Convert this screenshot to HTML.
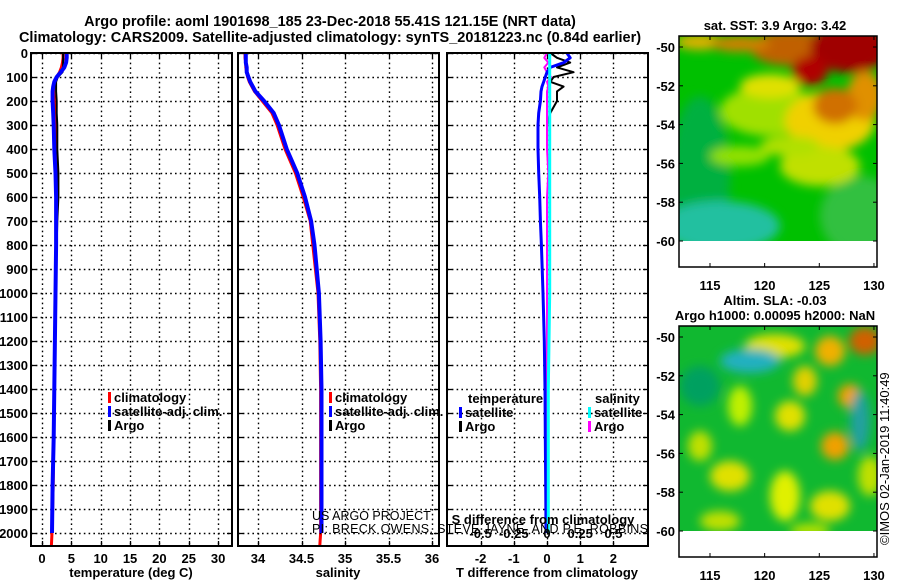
<!DOCTYPE html>
<html><head><meta charset="utf-8"><style>
html,body{margin:0;padding:0;background:#fff;}
svg{display:block;font-family:"Liberation Sans",Arial,sans-serif;}
.t{font-weight:bold;font-size:13px;}
.h{font-weight:bold;font-size:14.5px;}
</style></head><body>
<svg id="c" width="900" height="580" viewBox="0 0 900 580">
<defs>
<filter id="bl" x="-20%" y="-20%" width="140%" height="140%"><feGaussianBlur stdDeviation="5"/></filter>
<clipPath id="m1"><rect x="679" y="36" width="198" height="205"/></clipPath>
<clipPath id="m2"><rect x="679" y="326" width="198" height="205"/></clipPath>
</defs>
<text class="h" x="330" y="26" text-anchor="middle">Argo profile: aoml 1901698_185 23-Dec-2018 55.41S 121.15E (NRT data)</text>
<text class="h" x="330" y="42" text-anchor="middle">Climatology: CARS2009. Satellite-adjusted climatology: synTS_20181223.nc (0.84d earlier)</text>
<g id="g"></g>
</svg>
<script>
// Depth levels (m)
const depths=[0,20,40,60,80,100,120,140,160,200,250,300,400,500,600,700,800,1000,1200,1400,1600,1800,2000];
const tempClim=[3.6,3.6,3.5,3.3,3.0,2.5,2.1,2.0,2.0,2.1,2.2,2.3,2.4,2.4,2.4,2.4,2.4,2.3,2.2,2.1,2.0,1.9,1.7];
const tempSat=[4.2,4.2,4.1,3.8,3.2,2.5,2.1,1.9,1.8,1.8,1.9,2.0,2.1,2.3,2.4,2.4,2.4,2.3,2.2,2.1,2.0,1.8,1.7];
const tempArgo=[3.6,3.6,3.6,3.6,3.5,2.7,2.4,2.4,2.4,2.5,2.5,2.6,2.6,2.8,2.8,2.6,2.5,2.4,2.2,2.1,2.0,1.9,1.7];
const salClim=[33.85,33.85,33.86,33.86,33.87,33.88,33.9,33.93,33.96,34.05,34.16,34.22,34.31,34.43,34.52,34.6,34.63,34.69,34.71,34.72,34.72,34.72,34.72];
const salSat=[33.86,33.86,33.86,33.87,33.87,33.89,33.91,33.94,33.97,34.07,34.18,34.24,34.33,34.45,34.54,34.61,34.65,34.70,34.72,34.73,34.73,34.73,34.73];
const salArgo=[33.86,33.86,33.86,33.87,33.88,33.9,33.92,33.95,33.98,34.06,34.17,34.23,34.32,34.44,34.53,34.61,34.64,34.70,34.72,34.73,34.73,34.73,34.73];
const tdSat=[0.6,0.7,0.5,0.1,0.0,-0.05,-0.1,-0.15,-0.18,-0.2,-0.25,-0.27,-0.27,-0.25,-0.22,-0.2,-0.17,-0.12,-0.08,-0.06,-0.05,-0.04,-0.03];
const tdArgo=[0.1,0.3,0.7,0.3,0.8,0.2,0.1,0.5,0.3,0.3,0.1,0.0,0.0,0.05,0.05,0.0,0.0,0.0,0.0,0.0,0.0,0.0,0.0];
const sdSat=[0.02,0.02,0.02,0.02,0.02,0.02,0.02,0.02,0.02,0.02,0.02,0.02,0.02,0.02,0.02,0.02,0.02,0.02,0.015,0.01,0.01,0.01,0.01];
const sdArgo=[0.0,-0.02,0.01,-0.02,0.0,0.03,0.0,0.01,0.0,0.0,0.0,0.0,0.0,0.01,0.0,0.0,0.0,0.0,0.0,0.0,0.0,0.0,0.0];
const depthTicks=[0,100,200,300,400,500,600,700,800,900,1000,1100,1200,1300,1400,1500,1600,1700,1800,1900,2000];
const tempTicks=[0,5,10,15,20,25,30];
const salTicks=[34,34.5,35,35.5,36];
const tdTicks=[-2,-1,0,1,2];
const sdTicks=[-0.5,-0.25,0,0.25,0.5];
const latTicks=[-50,-52,-54,-56,-58,-60];
const lonTicks=[115,120,125,130];

const NS='http://www.w3.org/2000/svg';
const G=document.getElementById('g');
function el(tag,at,parent){const e=document.createElementNS(NS,tag);for(const k in at)e.setAttribute(k,at[k]);(parent||G).appendChild(e);return e;}
const T0=53,B0=546;
const yD=d=>T0+d*0.24;
const P1={x0:31,x1:232},P2={x0:238,x1:439},P3={x0:447,x1:648};
const xT=v=>42+v*5.87, xS=v=>258+(v-34)*87, xTD=v=>547+v*33.2, xSD=v=>547+v*132.8;
const px=v=>Math.round(v)+0.5;
const DASH={stroke:'#000','stroke-width':1.4,'stroke-dasharray':'1.6,3.2'};

function frame(P,name){
  const r=el('rect',{x:P.x0,y:T0,width:P.x1-P.x0,height:B0-T0,fill:'none',stroke:'#000','stroke-width':2});
  
  
}
function hgrid(P){depthTicks.forEach(d=>{const y=px(yD(d));
  const l=el('line',Object.assign({x1:P.x0,x2:P.x1,y1:y,y2:y},DASH));
  
  el('line',{x1:P.x0,x2:P.x0+5,y1:y,y2:y,stroke:'#000','stroke-width':1.3});el('line',{x1:P.x1-5,x2:P.x1,y1:y,y2:y,stroke:'#000','stroke-width':1.3});});}
function vgrid(P,ticks,fx,labels,ly,name){ticks.forEach((v,i)=>{const x=px(fx(v));
  const l=el('line',Object.assign({x1:x,x2:x,y1:T0,y2:B0},DASH));
  
  el('line',{x1:x,x2:x,y1:T0,y2:T0+5,stroke:'#000','stroke-width':1.3});el('line',{x1:x,x2:x,y1:B0-5,y2:B0,stroke:'#000','stroke-width':1.3});
  const t=el('text',{x:fx(v),y:ly,'text-anchor':'middle',class:'t'});t.textContent=labels[i];
  });}
function line(xs,fx,color,w,name,maxD){
  let d='';depths.forEach((dp,i)=>{if(maxD!==undefined&&dp>maxD)return;const x=fx(xs[i]),y=yD(dp);
    d+=(i?'L':'M')+x.toFixed(1)+','+y.toFixed(1);});
  const p=el('path',{d:d,fill:'none',stroke:color,'stroke-width':w,'stroke-linejoin':'round'});
  }

// Panel 1
hgrid(P1);vgrid(P1,tempTicks,xT,tempTicks.map(String),563,'temperature-axis');
depthTicks.forEach(d=>{const t=el('text',{x:28,y:yD(d)+5,'text-anchor':'end',class:'t'});t.textContent=d;
  });
line(tempClim,xT,'#f00',3,'temperature-climatology-line');
{const y=yD(2000);el('line',{x1:xT(1.7),x2:xT(1.6),y1:y,y2:yD(2054),stroke:'#f00','stroke-width':3});
 el('line',{x1:xS(34.72),x2:xS(34.71),y1:y,y2:yD(2054),stroke:'#f00','stroke-width':3});}
line(tempArgo,xT,'#000',2,'temperature-argo-line',1000);
line(tempSat,xT,'#00f',4,'temperature-satellite-line');
frame(P1,'temperature-panel');
{const t=el('text',{x:131,y:577,'text-anchor':'middle',class:'t'});t.textContent='temperature (deg C)';}

// Panel 2
hgrid(P2);vgrid(P2,salTicks,xS,['34','34.5','35','35.5','36'],563,'salinity-axis');
line(salClim,xS,'#f00',3,'salinity-climatology-line');
line(salArgo,xS,'#000',2,'salinity-argo-line',1200);
line(salSat,xS,'#00f',4,'salinity-satellite-line');
frame(P2,'salinity-panel');
{const t=el('text',{x:338,y:577,'text-anchor':'middle',class:'t'});t.textContent='salinity';}

// Panel 3
hgrid(P3);vgrid(P3,tdTicks,xTD,['-2','-1','0','1','2'],563,'t-difference-axis');
line(tdArgo,xTD,'#000',2,'t-difference-argo-line',300);
line(sdArgo,xSD,'#f0f',2,'s-difference-argo-line');
line(tdSat,xTD,'#00f',3,'t-difference-satellite-line');
line(sdSat,xSD,'#0ff',3,'s-difference-satellite-line');
frame(P3,'difference-panel');
sdTicks.forEach(v=>{const t=el('text',{x:xSD(v),y:538,'text-anchor':'middle',class:'t'});t.textContent=String(v);
  });
{const t=el('text',{x:543,y:524,'text-anchor':'middle',class:'t'});t.textContent='S difference from climatology';}
{const t=el('text',{x:547,y:577,'text-anchor':'middle',class:'t'});t.textContent='T difference from climatology';}

// Legends
function leg(x,y,color,label,name){el('rect',{x:x,y:y-10,width:3,height:11,fill:color});
  const t=el('text',{x:x+6,y:y,class:'t'});t.textContent=label;}
[[108,'temperature'],[329,'salinity']].forEach(([x,n])=>{
  leg(x,402,'#f00','climatology',n+'-legend-climatology');
  leg(x,416,'#00f','satellite-adj. clim.',n+'-legend-satellite');
  leg(x,430,'#000','Argo',n+'-legend-argo');});
{const t=el('text',{x:468,y:403,class:'t'});t.textContent='temperature';}
{const t=el('text',{x:595,y:403,class:'t'});t.textContent='salinity';}
leg(459,417,'#00f','satellite','t-diff-legend-satellite');
leg(459,431,'#000','Argo','t-diff-legend-argo');
leg(588,417,'#0ff','satellite','s-diff-legend-satellite');
leg(588,431,'#f0f','Argo','s-diff-legend-argo');
{const t=el('text',{x:312,y:520,'font-size':12.5});t.textContent='US ARGO PROJECT';
 const u=el('text',{x:312,y:533,'font-size':12.5,textLength:336});u.textContent='PI: BRECK OWENS, STEVE JAYNE, AND P.E. ROBBINS';}

// Maps
function map(top,clip,blobs,bg,name,title1,title2){
  const yL=v=>top+11+(-50-v)*19.4, xL=v=>710+(v-115)*10.93;
  const g=el('g',{'clip-path':'url(#'+clip+')'});
  el('rect',{x:679,y:top,width:198,height:231,fill:bg},g);
  const gb=el('g',{filter:'url(#bl)'},g);
  blobs.forEach(b=>el('ellipse',{cx:b[0],cy:top+b[1],rx:b[2],ry:b[3],fill:b[4]},gb));
  el('rect',{x:679,y:yL(-60),width:198,height:30,fill:'#fff'});
  el('rect',{x:679,y:top,width:198,height:231,fill:'none',stroke:'#000','stroke-width':1.5});
  latTicks.forEach(v=>{const y=yL(v);el('line',{x1:679,x2:683,y1:y,y2:y,stroke:'#000'});el('line',{x1:873,x2:877,y1:y,y2:y,stroke:'#000'});
    const t=el('text',{x:675,y:y+5,'text-anchor':'end',class:'t'});t.textContent=v;});
  lonTicks.forEach(v=>{const x=xL(v);el('line',{x1:x,x2:x,y1:top,y2:top+4,stroke:'#000'});el('line',{x1:x,x2:x,y1:top+227,y2:top+231,stroke:'#000'});
    const t=el('text',{x:x,y:top+254,'text-anchor':'middle',class:'t'});t.textContent=v;});
  if(title1){const t=el('text',{x:775,y:top-6-(title2?15:0),'text-anchor':'middle',class:'t'});t.textContent=title1;}
  if(title2){const t=el('text',{x:775,y:top-6,'text-anchor':'middle',class:'t'});t.textContent=title2;}
}
map(36,'m1',[
 [700,140,30,80,'#00b040'],[720,190,60,25,'#20c0a0'],[860,180,40,40,'#30c040'],
 [770,75,50,25,'#a0e000'],[830,85,45,30,'#f0d000'],[820,130,40,20,'#c0e000'],[770,50,30,12,'#e0e000'],
 [790,12,40,18,'#c06000'],[850,12,40,25,'#a00000'],[810,35,18,15,'#b00000'],[700,6,25,8,'#e0b000'],[740,8,30,8,'#d08000'],
 [865,60,18,25,'#e09000'],[835,70,22,18,'#d07000'],[740,120,30,10,'#90e000'],[790,110,30,10,'#b0e000']
],'#00c000','sst-map','sat. SST: 3.9 Argo: 3.42');
map(326,'m2',[
 [775,20,30,12,'#e0e000'],[830,25,15,15,'#f0b000'],[865,15,16,14,'#d06000'],[750,35,30,12,'#20b0c0'],
 [850,70,12,12,'#f0a000'],[835,120,14,14,'#f0a000'],[860,95,10,30,'#20a0a0'],
 [700,60,20,20,'#00a060'],[740,80,12,20,'#c0f000'],[790,90,15,15,'#e0e000'],[805,55,12,15,'#e0d000'],
 [700,120,12,15,'#c0e000'],[730,150,20,15,'#e0e000'],[785,170,15,25,'#e0f000'],[830,180,20,15,'#e0e000'],
 [870,150,12,20,'#c0e000'],[720,195,20,10,'#c0e000'],[810,205,20,8,'#b0e000']
],'#10b830','sla-map','Altim. SLA: -0.03','Argo h1000: 0.00095 h2000: NaN');
{const t=el('text',{x:0,y:0,'font-size':13,transform:'translate(889,545) rotate(-90)'});t.textContent='©IMOS 02-Jan-2019 11:40:49';}
</script>
</body></html>
